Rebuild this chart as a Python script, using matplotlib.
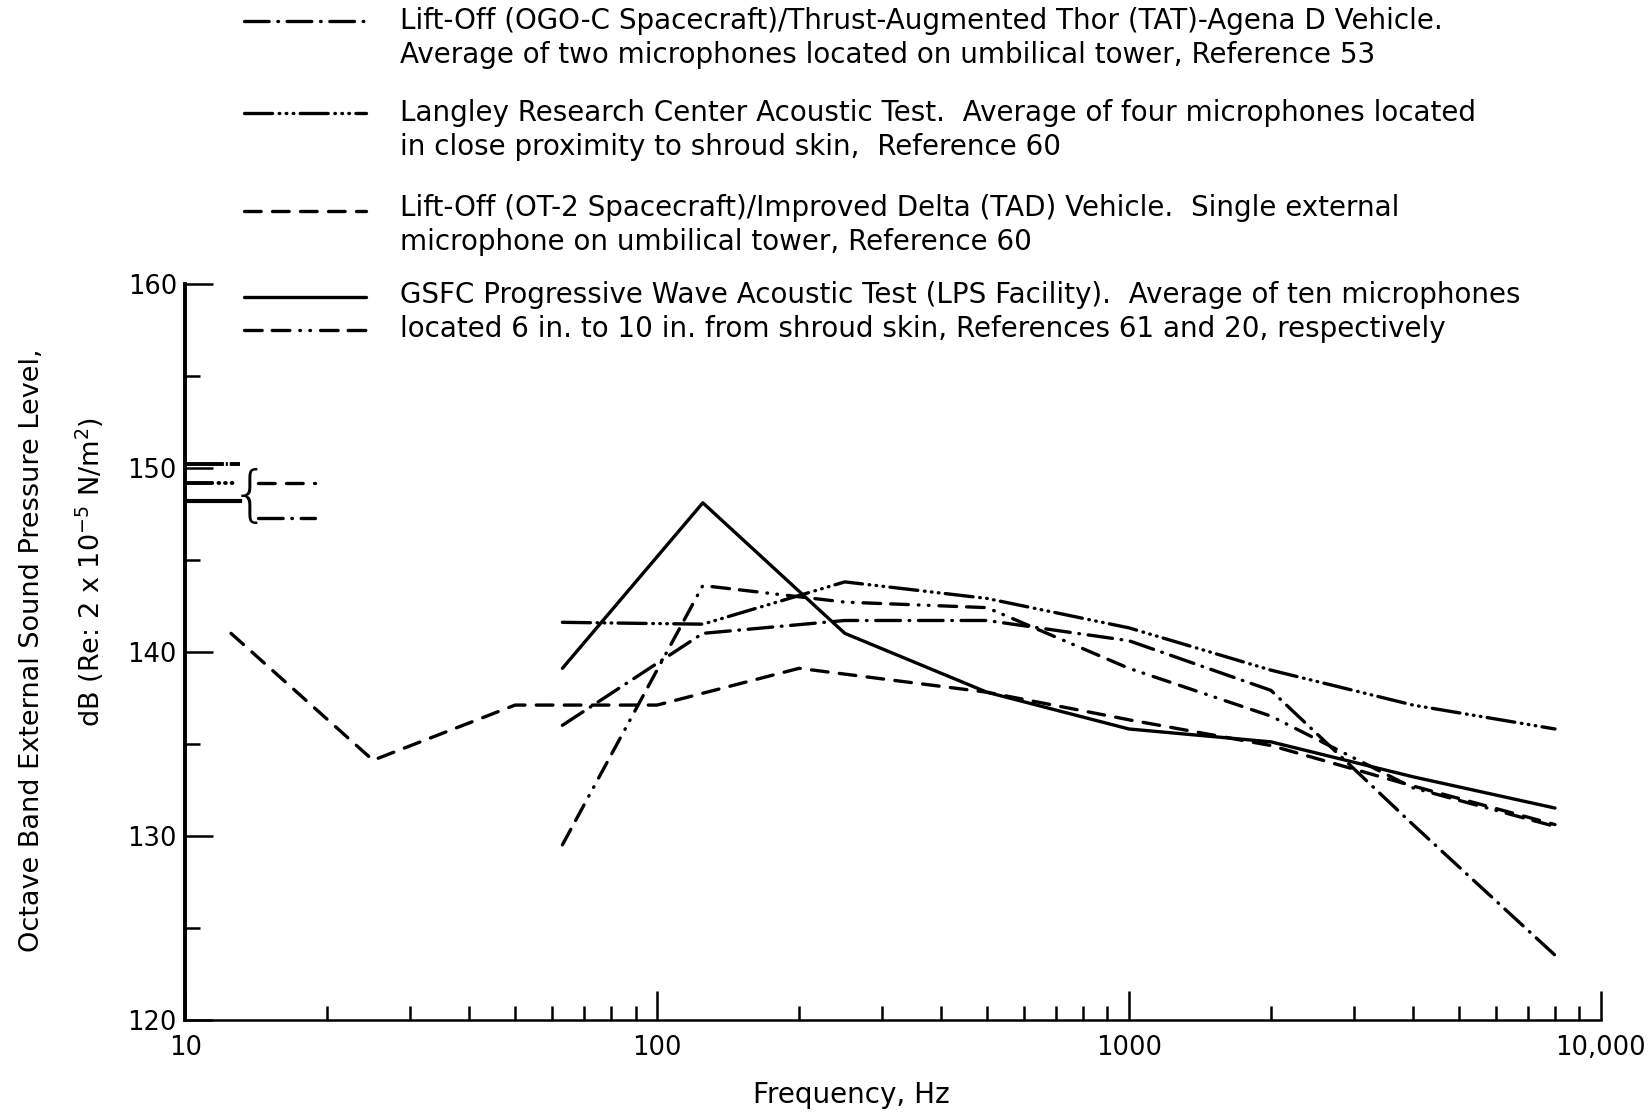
import matplotlib
matplotlib.use("Agg")
import matplotlib.pyplot as plt
from matplotlib.lines import Line2D
from matplotlib.ticker import FixedLocator, NullFormatter

# octave band centre frequencies, Hz
freq_oct = [63, 125, 250, 500, 1000, 2000, 4000, 8000]
freq_tad = [12.5, 25, 50, 100, 200, 500, 1000, 2000, 4000, 8000]

# octave band SPL, dB
ogo_c = [136.0, 141.0, 141.7, 141.7, 140.6, 137.9, 130.6, 123.5]
langley = [141.6, 141.5, 143.8, 142.9, 141.3, 139.0, 137.1, 135.8]
tad = [141.0, 134.1, 137.1, 137.1, 139.1, 137.8, 136.3, 134.9, 132.7, 130.6]
gsfc_lps = [139.1, 148.1, 141.0, 137.8, 135.8, 135.1, 133.2, 131.5]
gsfc_ref20 = [129.5, 143.6, 142.7, 142.4, 139.1, 136.5, 132.6, 130.5]

# overall levels drawn at the left of the plot
oa_left = [150.2, 149.2, 148.2]   # ref 20, langley, lps
oa_right = [149.2, 147.3]         # tad, ogo-c
oa_left_span = [10, 13.05]
oa_right_span = [14.25, 18.8]

yticks = [120, 130, 140, 150, 160]
xticks = [10, 100, 1000, 10000]
xticklabels = ["10", "100", "1000", "10,000"]

legend_text = [
    "Lift-Off (OGO-C Spacecraft)/Thrust-Augmented Thor (TAT)-Agena D Vehicle.\n"
    "Average of two microphones located on umbilical tower, Reference 53",
    "Langley Research Center Acoustic Test.  Average of four microphones located\n"
    "in close proximity to shroud skin,  Reference 60",
    "Lift-Off (OT-2 Spacecraft)/Improved Delta (TAD) Vehicle.  Single external\n"
    "microphone on umbilical tower, Reference 60",
    "GSFC Progressive Wave Acoustic Test (LPS Facility).  Average of ten microphones\n"
    "located 6 in. to 10 in. from shroud skin, References 61 and 20, respectively",
]

# line styles (round caps, so dots are short "on" pieces)
LW = 2.4
st_ogo = (0, (7.4, 2.6, 0.2, 2.6))
st_lang = (0, (8.4, 2.0, 0.2, 1.9, 0.2, 1.9, 0.2, 1.9))
st_tad = (0, (5, 3.4))
st_lps = "-"
st_ref20 = (0, (5.3, 3.0, 5.3, 3.0, 0.2, 2.8, 0.2, 3.0))

plt.rcParams["font.family"] = ["DejaVu Sans"]
W, H = 1651, 1114
fig = plt.figure(figsize=(W / 100, H / 100), dpi=100)
ax = fig.add_axes([185.3 / W, 1 - 1019.5 / H, (1600.7 - 185.3) / W, (1019.5 - 284) / H])

kw = dict(color="black", lw=LW, dash_capstyle="round", solid_capstyle="round")
ax.plot(freq_oct, ogo_c, ls=st_ogo, **kw)
ax.plot(freq_oct, langley, ls=st_lang, **kw)
ax.plot(freq_tad, tad, ls=st_tad, **kw)
ax.plot(freq_oct, gsfc_lps, ls=st_lps, **kw)
ax.plot(freq_oct, gsfc_ref20, ls=st_ref20, **kw)

# overall level marks
ax.plot(oa_left_span, [oa_left[0]] * 2, ls=(0, (10, 0.5, 0.5, 0.5)), color="black", lw=2.8)
ax.plot(oa_left_span, [oa_left[1]] * 2, ls=(0, (7, 1.6, 0.2, 1.5, 0.2, 1.5, 0.2)), color="black",
        lw=2.8, dash_capstyle="round")
ax.plot(oa_left_span, [oa_left[2]] * 2, ls="-", color="black", lw=3.0)
ax.plot(oa_right_span, [oa_right[0]] * 2, ls=st_tad, **kw)
ax.plot(oa_right_span, [oa_right[1]] * 2, ls=st_ogo, **kw)
ax.text(13.75, 148.4, "{", fontsize=44, ha="center", va="center", fontweight="light")

ax.set_xscale("log")
ax.set_xlim(10, 10000)
ax.set_ylim(120, 160)
for s in ["top", "right"]:
    ax.spines[s].set_visible(False)
ax.spines["left"].set_linewidth(2.8)
ax.spines["bottom"].set_linewidth(1.8)

ax.set_yticks(yticks)
ax.yaxis.set_minor_locator(FixedLocator([125, 135, 145, 155]))
ax.set_xticks(xticks)
ax.set_xticklabels(xticklabels)
minor_x = [m * d for d in (10, 100, 1000) for m in range(2, 10)]
ax.xaxis.set_minor_locator(FixedLocator(minor_x))
ax.xaxis.set_minor_formatter(NullFormatter())
ax.tick_params(axis="both", which="both", direction="in", width=1.8, labelsize=18.5)
ax.tick_params(axis="y", which="major", length=20, pad=6)
ax.tick_params(axis="y", which="minor", length=11)
ax.tick_params(axis="x", which="major", length=21, pad=11)
ax.tick_params(axis="x", which="minor", length=10)

# axis titles
fig.text(851 / W, 1 - 1095 / H, "Frequency, Hz", fontsize=20, ha="center", va="center")
fig.text(32 / W, 1 - 650 / H, "Octave Band External Sound Pressure Level,", fontsize=19.5,
         rotation=90, ha="center", va="center")
fig.text(90 / W, 1 - 572 / H, "dB (Re: 2 x 10$^{-5}$ N/m$^{2}$)", fontsize=19.5,
         rotation=90, ha="center", va="center")

# legend
leg_lines = [(21, st_ogo), (113, st_lang), (211, st_tad), (297, st_lps), (330, st_ref20)]
for y, st in leg_lines:
    fig.add_artist(Line2D([244 / W, 366 / W], [1 - y / H] * 2, transform=fig.transFigure,
                          ls=st, **kw))
leg_y = [38, 130, 225, 312]
for y, t in zip(leg_y, legend_text):
    fig.text(400 / W, 1 - y / H, t, fontsize=20, ha="left", va="center", linespacing=1.3)

fig.savefig("out.png", dpi=100)
